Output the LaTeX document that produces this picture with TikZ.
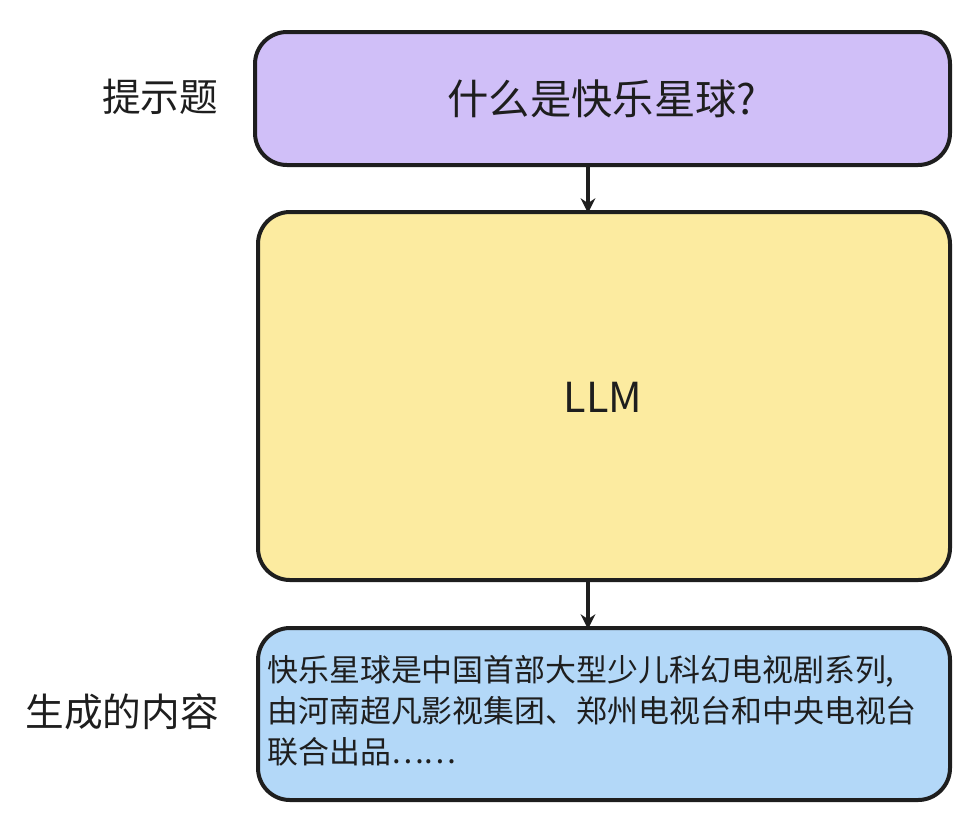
\documentclass[tikz,border=0pt]{standalone}
\usepackage{fontspec}
\setmainfont{Noto Sans CJK SC}
\usetikzlibrary{arrows.meta}
\definecolor{pur}{HTML}{D0BFF8}
\definecolor{yel}{HTML}{FCEBA0}
\definecolor{blu}{HTML}{B3D8F8}
\definecolor{ink}{HTML}{1E1E1E}
\begin{document}
\begin{tikzpicture}[x=0.75pt,y=-0.75pt,
  box/.style={draw=ink,line width=3pt,rounded corners=24pt},
  lab/.style={font=\fontsize{29}{34}\selectfont,text=ink},
  arr/.style={draw=ink,line width=2.6pt,-{Stealth[length=11pt,width=11pt]}}]
\useasboundingbox (0,0) rectangle (980,826);
\draw[box,fill=pur] (255,32) rectangle (950,165);
\node[lab,font=\fontsize{31}{36}\selectfont] (q) at (602,99) {什么是快乐星球?};
\draw[box,fill=yel] (258,212) rectangle (950,580);
\node[lab,font=\fontsize{31}{36}\selectfont] (llm) at (603,397) {LLM};
\draw[box,fill=blu] (258,628) rectangle (950,800);
\node[lab,font=\fontsize{23.2}{30.8}\selectfont,anchor=north west,align=left,inner sep=0pt] (out) at (267,655) {快乐星球是中国首部大型少儿科幻电视剧系列,\\由河南超凡影视集团、郑州电视台和中央电视台\\联合出品……};
\node[lab] (p) at (160,97) {提示题};
\node[lab] (g) at (122,712) {生成的内容};
\coordinate (a1) at (588,165); \coordinate (a2) at (588,213);
\coordinate (b1) at (588,580); \coordinate (b2) at (588,629);
\draw[arr] (a1) -- (a2);
\draw[arr] (b1) -- (b2);
\end{tikzpicture}
\end{document}
